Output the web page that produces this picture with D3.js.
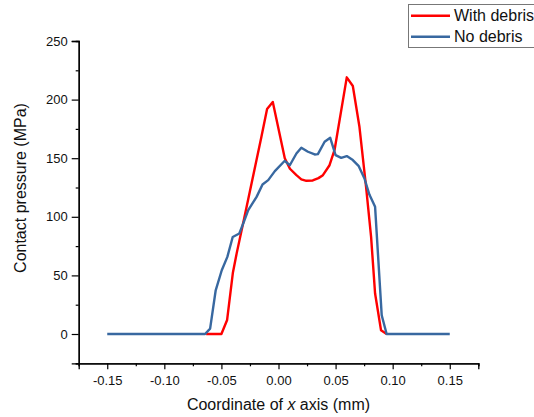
<!DOCTYPE html>
<html>
<head>
<meta charset="utf-8">
<script src="https://cdn.jsdelivr.net/npm/d3@7/dist/d3.min.js"></script>
<style>
  html, body { margin: 0; padding: 0; background: #fff; }
  svg { display: block; }
  text { font-family: "Liberation Sans", Arial, sans-serif; }
</style>
</head>
<body>
<svg id="chart" width="534" height="417"></svg>
<script>
// ---- data ----
const withDebrisX = [-0.0634, -0.05, -0.045, -0.040, -0.0366, -0.030, -0.025, -0.020, -0.015, -0.010, -0.005, 0.0055, 0.010, 0.0157, 0.020, 0.0244, 0.030, 0.035, 0.0389, 0.0447, 0.0491, 0.0598, 0.0651, 0.0709, 0.0767, 0.0811, 0.0846, 0.0898, 0.0947];
const withDebrisY = [0, 0, 12, 52, 69, 99, 122, 145, 168, 192, 198, 150, 141, 135.5, 132, 130.7, 131, 133, 135.5, 144, 157, 219, 211.6, 176.8, 125.5, 82.8, 34.5, 3.2, 0];

const noDebrisX = [-0.15, -0.0643, -0.0599, -0.055, -0.0497, -0.0448, -0.0401, -0.0343, -0.0309, -0.0265, -0.0192, -0.014, -0.009, -0.0032, 0.0055, 0.0099, 0.0157, 0.020, 0.0258, 0.0317, 0.0345, 0.0404, 0.0453, 0.050, 0.0549, 0.0598, 0.0651, 0.0703, 0.0753, 0.0796, 0.0846, 0.0904, 0.0947, 0.15];
const noDebrisY = [0, 0, 4.6, 37.3, 54.4, 65.8, 82.8, 85.8, 94.3, 105.7, 117, 127.6, 131.3, 139, 147.8, 144, 154, 159, 155.5, 153.2, 153.5, 164, 167.4, 152.6, 150.3, 151.8, 148.4, 143.2, 132.7, 119, 108.5, 16, 0, 0];

const seriesNames = ["With debris", "No debris"];
const xTickValues = [-0.15, -0.10, -0.05, 0.00, 0.05, 0.10, 0.15];
const xTickLabels = ["-0.15", "-0.10", "-0.05", "0.00", "0.05", "0.10", "0.15"];
const xMinorTicks = [-0.175, -0.125, -0.075, -0.025, 0.025, 0.075, 0.125, 0.175];
const yTickValues = [0, 50, 100, 150, 200, 250];
const yMinorTicks = [-25, 25, 75, 125, 175, 225];
const xTitle = ["Coordinate of ", "x", " axis (mm)"];
const yTitle = "Contact pressure (MPa)";

(function () {
// ---- layout ----
const svg = d3.select("#chart");
const pL = 78.7, pR = 478.3, pT = 41, pB = 363.3;

const x = d3.scaleLinear().domain([-0.175, 0.175]).range([pL, pR]);
const y = d3.scaleLinear().domain([-25, 250]).range([pB, pT]);

// axes
svg.append("g").attr("transform", `translate(0,${pB})`)
  .call(d3.axisBottom(x).tickValues(xMinorTicks).tickSize(3).tickFormat(""));
svg.append("g").attr("transform", `translate(0,${pB})`)
  .call(d3.axisBottom(x).tickValues(xTickValues).tickSize(6).tickPadding(6)
    .tickFormat((d, i) => xTickLabels[i]));
svg.append("g").attr("transform", `translate(${pL},0)`)
  .call(d3.axisLeft(y).tickValues(yMinorTicks).tickSize(3).tickFormat(""));
svg.append("g").attr("transform", `translate(${pL},0)`)
  .call(d3.axisLeft(y).tickValues(yTickValues).tickSize(7).tickPadding(4));

svg.selectAll(".domain").attr("stroke", "#000").attr("stroke-width", 1.3);
svg.selectAll(".tick line").attr("stroke", "#000").attr("stroke-width", 1.2);
svg.selectAll(".tick text").attr("fill", "#111").style("font-size", "13px")
  .style("font-family", "'Liberation Sans', Arial, sans-serif");

// lines
const line = d3.line().x(d => x(d[0])).y(d => y(d[1]));
const redData = withDebrisX.map((v, i) => [v, withDebrisY[i]]);
const blueData = noDebrisX.map((v, i) => [v, noDebrisY[i]]);
const colors = ["#ff0000", "#3868a0"];

svg.append("path").datum(redData).attr("d", line)
  .attr("fill", "none").attr("stroke", colors[0]).attr("stroke-width", 2.4)
  .attr("stroke-linejoin", "round");
svg.append("path").datum(blueData).attr("d", line)
  .attr("fill", "none").attr("stroke", colors[1]).attr("stroke-width", 2.4)
  .attr("stroke-linejoin", "round");

// titles
const xt = svg.append("text").attr("x", (pL + pR) / 2).attr("y", 410)
  .attr("text-anchor", "middle").style("font-size", "16px").attr("fill", "#111");
xt.append("tspan").text(xTitle[0]);
xt.append("tspan").text(xTitle[1]).style("font-style", "italic");
xt.append("tspan").text(xTitle[2]);

svg.append("text").attr("transform", "translate(26,188) rotate(-90)")
  .attr("text-anchor", "middle").style("font-size", "16px").attr("fill", "#111")
  .text(yTitle);

// legend
const lg = svg.append("g");
lg.append("rect").attr("x", 408.5).attr("y", 4.5).attr("width", 140).attr("height", 43)
  .attr("fill", "#fff").attr("stroke", "#777").attr("stroke-width", 1);
seriesNames.forEach((name, i) => {
  const ly = 15.7 + i * 21;
  lg.append("line").attr("x1", 411).attr("x2", 450).attr("y1", ly).attr("y2", ly)
    .attr("stroke", colors[i]).attr("stroke-width", 2.4);
  lg.append("text").attr("x", 454).attr("y", ly + 5.5).style("font-size", "16px")
    .attr("fill", "#111").text(name);
});
})();
</script>
</body>
</html>
